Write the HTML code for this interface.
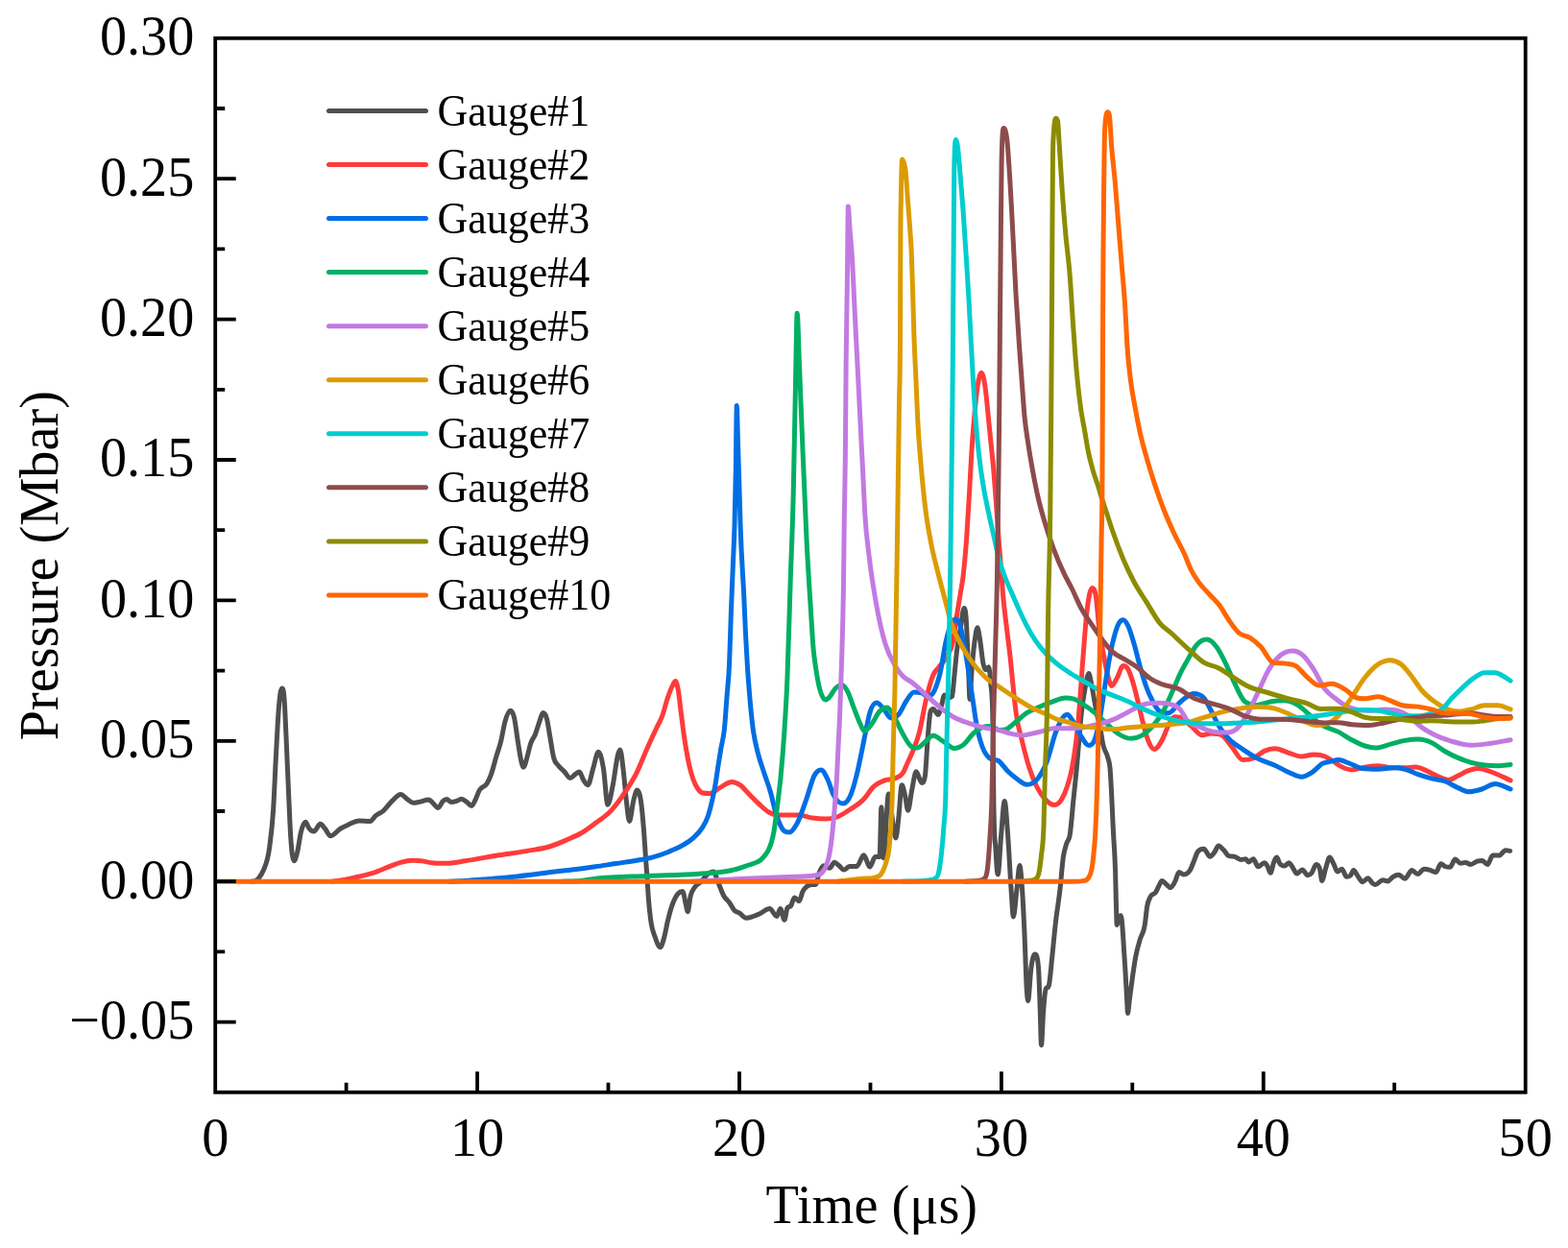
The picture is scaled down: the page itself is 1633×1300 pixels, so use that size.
<!DOCTYPE html><html><head><meta charset="utf-8"><style>html,body{margin:0;padding:0;background:#fff;}svg{display:block;}text{font-family:"Liberation Serif", "Times New Roman", serif;fill:#000;}</style></head><body>
<svg width="1633" height="1300" viewBox="0 0 1633 1300">
<rect width="1633" height="1300" fill="#fff"/>
<defs><clipPath id="pc"><rect x="224.2" y="39.8" width="1364.5" height="1098.0"/></clipPath></defs>
<g clip-path="url(#pc)" fill="none" stroke-width="5.0" stroke-linejoin="round" stroke-linecap="round">
<path stroke="#4F4F4F" d="M262.00 918.20 C263.43 917.97 264.87 918.20 266.30 917.50 C267.53 916.90 268.77 915.60 270.00 914.00 C271.33 912.27 272.67 910.56 274.00 907.30 C276.23 901.84 278.47 899.30 280.70 882.30 C282.00 872.40 283.30 864.13 284.60 843.80 C285.57 828.68 286.53 803.90 287.50 786.00 C288.43 768.72 289.37 749.39 290.30 738.00 C291.40 724.57 292.50 716.90 293.60 716.90 C294.43 716.90 295.27 717.24 296.10 728.50 C296.73 737.06 297.37 753.41 298.00 767.00 C298.83 784.89 299.67 806.32 300.50 824.60 C301.27 841.41 302.03 860.94 302.80 872.70 C303.97 890.60 305.13 896.70 306.30 896.70 C307.40 896.70 308.50 892.39 309.60 888.00 C310.87 882.94 312.13 872.06 313.40 866.90 C315.00 860.38 316.60 856.30 318.20 856.30 C319.47 856.30 320.73 861.40 322.00 863.00 C323.63 865.06 325.27 866.00 326.90 866.00 C329.13 866.00 331.37 858.30 333.60 858.30 C335.20 858.30 336.80 861.17 338.40 863.00 C340.33 865.21 342.27 870.80 344.20 870.80 C347.73 870.80 351.27 865.10 354.80 863.00 C357.37 861.47 359.93 860.33 362.50 859.20 C366.33 857.51 370.17 855.00 374.00 855.00 C377.83 855.00 381.67 855.40 385.50 855.40 C387.43 855.40 389.37 851.22 391.30 849.60 C393.87 847.45 396.43 846.95 399.00 844.80 C402.20 842.12 405.40 837.17 408.60 834.20 C411.50 831.51 414.40 827.50 417.30 827.50 C419.53 827.50 421.77 830.81 424.00 832.30 C426.17 833.74 428.33 836.30 430.50 836.30 C432.40 836.30 434.30 835.83 436.20 835.50 C439.70 834.90 443.20 833.10 446.70 833.10 C448.03 833.10 449.37 835.16 450.70 836.30 C452.57 837.89 454.43 841.50 456.30 841.50 C457.93 841.50 459.57 836.19 461.20 834.70 C462.53 833.48 463.87 832.60 465.20 832.60 C466.83 832.60 468.47 835.50 470.10 835.50 C471.70 835.50 473.30 835.15 474.90 834.70 C476.80 834.16 478.70 832.30 480.60 832.30 C482.47 832.30 484.33 834.19 486.20 835.50 C487.83 836.65 489.47 839.50 491.10 839.50 C492.43 839.50 493.77 835.74 495.10 833.10 C496.47 830.40 497.83 825.96 499.20 823.40 C501.87 818.40 504.53 820.75 507.20 816.10 C508.57 813.72 509.93 810.90 511.30 807.20 C513.17 802.14 515.03 794.19 516.90 787.90 C518.53 782.39 520.17 778.49 521.80 771.70 C523.13 766.16 524.47 757.27 525.80 752.30 C527.70 745.22 529.60 740.20 531.50 740.20 C532.83 740.20 534.17 741.98 535.50 747.50 C536.83 753.02 538.17 765.12 539.50 773.30 C540.60 780.05 541.70 788.25 542.80 792.70 C543.60 795.93 544.40 799.20 545.20 799.20 C546.53 799.20 547.87 792.48 549.20 787.90 C550.30 784.12 551.40 778.37 552.50 774.90 C554.10 769.85 555.70 769.18 557.30 765.20 C558.93 761.14 560.57 755.11 562.20 750.70 C563.27 747.82 564.33 742.60 565.40 742.60 C566.73 742.60 568.07 743.35 569.40 748.30 C570.50 752.39 571.60 760.60 572.70 766.80 C574.03 774.32 575.37 784.36 576.70 789.50 C578.30 795.66 579.90 795.29 581.50 797.50 C583.67 800.50 585.83 801.67 588.00 804.00 C589.90 806.04 591.80 810.50 593.70 810.50 C595.57 810.50 597.43 807.61 599.30 806.40 C600.67 805.52 602.03 804.00 603.40 804.00 C604.73 804.00 606.07 809.92 607.40 812.10 C609.00 814.72 610.60 817.70 612.20 817.70 C614.10 817.70 616.00 805.66 617.90 799.70 C619.67 794.16 621.43 783.20 623.20 783.20 C625.00 783.20 626.80 790.24 628.60 801.50 C630.03 810.46 631.47 838.20 632.90 838.20 C634.70 838.20 636.50 826.50 638.30 817.70 C640.10 808.90 641.90 791.13 643.70 785.40 C644.40 783.17 645.10 781.00 645.80 781.00 C646.90 781.00 648.00 792.50 649.10 801.50 C650.17 810.23 651.23 824.82 652.30 833.80 C653.37 842.78 654.43 855.40 655.50 855.40 C656.93 855.40 658.37 839.32 659.80 833.80 C661.07 828.92 662.33 823.10 663.60 823.10 C664.87 823.10 666.13 825.21 667.40 833.80 C668.47 841.04 669.53 852.52 670.60 866.20 C671.33 875.61 672.07 888.63 672.80 898.50 C673.13 902.99 673.47 906.72 673.80 911.40 C674.30 918.42 674.80 928.30 675.30 935.00 C676.03 944.83 676.77 951.06 677.50 957.00 C679.07 969.69 680.63 971.17 682.20 976.00 C684.03 981.66 685.87 986.80 687.70 986.80 C689.07 986.80 690.43 981.04 691.80 976.00 C693.00 971.58 694.20 964.38 695.40 959.40 C696.97 952.89 698.53 947.19 700.10 942.70 C702.10 936.97 704.10 933.12 706.10 930.80 C707.67 928.99 709.23 928.40 710.80 928.40 C712.00 928.40 713.20 937.77 714.40 942.70 C714.97 945.03 715.53 949.80 716.10 949.80 C717.13 949.80 718.17 937.37 719.20 933.20 C720.80 926.74 722.40 925.95 724.00 923.60 C725.97 920.71 727.93 920.70 729.90 918.80 C732.30 916.48 734.70 912.28 737.10 910.50 C739.07 909.04 741.03 908.10 743.00 908.10 C744.60 908.10 746.20 915.11 747.80 918.80 C749.80 923.41 751.80 929.61 753.80 933.20 C755.77 936.73 757.73 937.56 759.70 940.30 C761.43 942.71 763.17 946.65 764.90 948.40 C766.53 950.05 768.17 949.83 769.80 950.80 C772.23 952.25 774.67 956.30 777.10 956.30 C779.57 956.30 782.03 955.33 784.50 954.50 C786.93 953.69 789.37 952.51 791.80 951.40 C795.07 949.91 798.33 946.50 801.60 946.50 C804.07 946.50 806.53 954.50 809.00 954.50 C810.23 954.50 811.47 946.50 812.70 946.50 C814.13 946.50 815.57 958.20 817.00 958.20 C818.00 958.20 819.00 947.85 820.00 945.90 C821.23 943.50 822.47 945.33 823.70 943.50 C824.93 941.67 826.17 934.90 827.40 934.90 C829.03 934.90 830.67 938.60 832.30 938.60 C833.50 938.60 834.70 931.24 835.90 928.80 C837.13 926.29 838.37 925.11 839.60 923.90 C841.63 921.91 843.67 921.40 845.70 921.40 C846.93 921.40 848.17 921.40 849.40 921.40 C850.63 921.40 851.87 912.32 853.10 909.20 C854.73 905.07 856.37 901.80 858.00 901.80 C860.03 901.80 862.07 904.30 864.10 904.30 C865.73 904.30 867.37 898.20 869.00 898.20 C870.63 898.20 872.27 900.48 873.90 901.80 C875.53 903.12 877.17 906.10 878.80 906.10 C880.83 906.10 882.87 902.50 884.90 902.50 C887.37 902.50 889.83 902.50 892.30 902.50 C894.73 902.50 897.17 890.80 899.60 890.80 C901.67 890.80 903.73 903.00 905.80 903.00 C907.70 903.00 909.60 892.60 911.50 892.60 C913.03 892.60 914.57 892.60 916.10 892.60 C916.70 892.60 917.30 840.70 917.90 840.70 C918.67 840.70 919.43 893.80 920.20 893.80 C921.93 893.80 923.67 826.90 925.40 826.90 C926.17 826.90 926.93 836.05 927.70 840.70 C929.43 851.21 931.17 873.00 932.90 873.00 C933.87 873.00 934.83 860.55 935.80 852.30 C936.93 842.63 938.07 817.70 939.20 817.70 C940.37 817.70 941.53 824.16 942.70 829.20 C943.67 833.37 944.63 844.20 945.60 844.20 C946.93 844.20 948.27 829.75 949.60 823.40 C951.13 816.10 952.67 803.80 954.20 803.80 C956.13 803.80 958.07 815.40 960.00 815.40 C961.13 815.40 962.27 815.40 963.40 808.40 C964.30 802.84 965.20 781.58 966.10 770.70 C967.07 759.02 968.03 744.40 969.00 741.50 C969.97 738.60 970.93 738.60 971.90 738.60 C973.60 738.60 975.30 744.40 977.00 744.40 C978.23 744.40 979.47 738.13 980.70 734.20 C981.67 731.12 982.63 724.00 983.60 724.00 C984.90 724.00 986.20 727.00 987.50 727.00 C988.87 727.00 990.23 727.00 991.60 725.40 C992.33 724.54 993.07 711.94 993.80 705.00 C994.80 695.53 995.80 683.89 996.80 675.80 C998.00 666.10 999.20 660.78 1000.40 653.80 C1001.63 646.63 1002.87 633.40 1004.10 633.40 C1004.83 633.40 1005.57 635.42 1006.30 646.50 C1006.77 653.55 1007.23 665.27 1007.70 675.80 C1008.20 687.09 1008.70 700.59 1009.20 712.30 C1009.43 717.77 1009.67 728.40 1009.90 728.40 C1010.63 728.40 1011.37 706.72 1012.10 697.70 C1013.07 685.82 1014.03 675.72 1015.00 668.40 C1015.97 661.08 1016.93 653.80 1017.90 653.80 C1018.90 653.80 1019.90 662.15 1020.90 668.40 C1021.87 674.44 1022.83 685.52 1023.80 690.40 C1024.77 695.28 1025.73 697.70 1026.70 697.70 C1027.67 697.70 1028.63 694.70 1029.60 694.70 C1030.33 694.70 1031.07 702.07 1031.80 712.30 C1032.53 722.53 1033.27 712.30 1034.00 756.10 C1034.27 772.03 1034.53 811.09 1034.80 830.80 C1035.53 885.00 1036.27 871.65 1037.00 885.00 C1037.73 898.35 1038.47 910.90 1039.20 910.90 C1040.37 910.90 1041.53 882.02 1042.70 869.30 C1043.87 856.58 1045.03 834.60 1046.20 834.60 C1047.33 834.60 1048.47 854.23 1049.60 869.30 C1050.77 884.82 1051.93 910.80 1053.10 927.00 C1053.87 937.64 1054.63 955.00 1055.40 955.00 C1056.57 955.00 1057.73 936.63 1058.90 927.00 C1059.90 918.75 1060.90 901.60 1061.90 901.60 C1062.80 901.60 1063.70 913.84 1064.60 927.00 C1065.40 938.69 1066.20 955.40 1067.00 973.20 C1067.77 990.26 1068.53 1019.71 1069.30 1031.00 C1069.73 1037.38 1070.17 1042.50 1070.60 1042.50 C1071.70 1042.50 1072.80 1015.94 1073.90 1007.90 C1075.20 998.39 1076.50 994.00 1077.80 994.00 C1079.03 994.00 1080.27 994.00 1081.50 1007.90 C1082.10 1014.66 1082.70 1037.44 1083.30 1054.00 C1083.70 1065.04 1084.10 1088.70 1084.50 1088.70 C1085.20 1088.70 1085.90 1063.39 1086.60 1054.00 C1087.37 1043.72 1088.13 1034.09 1088.90 1031.00 C1090.07 1026.30 1091.23 1031.00 1092.40 1026.30 C1093.53 1021.73 1094.67 1006.89 1095.80 996.30 C1096.97 985.40 1098.13 972.05 1099.30 961.70 C1100.83 948.09 1102.37 940.61 1103.90 927.00 C1105.07 916.65 1106.23 900.50 1107.40 892.40 C1108.53 884.53 1109.67 882.32 1110.80 878.50 C1111.97 874.57 1113.13 876.62 1114.30 869.30 C1115.47 861.98 1116.63 846.15 1117.80 834.60 C1118.97 823.05 1120.13 812.33 1121.30 800.00 C1122.93 782.73 1124.57 758.15 1126.20 743.50 C1127.53 731.54 1128.87 723.12 1130.20 716.00 C1131.43 709.41 1132.67 701.50 1133.90 701.50 C1134.83 701.50 1135.77 708.38 1136.70 712.80 C1137.77 717.85 1138.83 724.67 1139.90 730.50 C1140.70 734.87 1141.50 739.64 1142.30 743.50 C1143.37 748.64 1144.43 751.13 1145.50 756.40 C1146.60 761.83 1147.70 770.76 1148.80 775.80 C1150.40 783.13 1152.00 782.24 1153.60 788.70 C1154.40 791.93 1155.20 791.61 1156.00 800.00 C1157.20 812.59 1158.40 845.55 1159.60 869.00 C1160.27 882.03 1160.93 885.51 1161.60 908.50 C1161.87 917.70 1162.13 931.65 1162.40 940.80 C1162.67 949.95 1162.93 963.40 1163.20 963.40 C1163.73 963.40 1164.27 958.58 1164.80 957.00 C1165.63 954.54 1166.47 953.70 1167.30 953.70 C1167.83 953.70 1168.37 959.08 1168.90 965.00 C1169.43 970.92 1169.97 981.12 1170.50 989.20 C1171.03 997.28 1171.57 1004.60 1172.10 1013.50 C1172.63 1022.40 1173.17 1033.63 1173.70 1042.60 C1173.97 1047.08 1174.23 1055.50 1174.50 1055.50 C1175.07 1055.50 1175.63 1046.90 1176.20 1042.60 C1177.27 1034.50 1178.33 1025.85 1179.40 1018.30 C1180.47 1010.75 1181.53 1003.20 1182.60 997.30 C1184.23 988.26 1185.87 983.59 1187.50 977.90 C1189.10 972.32 1190.70 973.63 1192.30 963.40 C1193.10 958.28 1193.90 948.73 1194.70 944.00 C1195.80 937.49 1196.90 936.68 1198.00 934.30 C1199.87 930.25 1201.73 932.49 1203.60 929.50 C1204.67 927.79 1205.73 924.99 1206.80 923.00 C1207.90 920.95 1209.00 917.40 1210.10 917.40 C1211.70 917.40 1213.30 920.11 1214.90 921.40 C1216.27 922.50 1217.63 924.60 1219.00 924.60 C1220.60 924.60 1222.20 921.22 1223.80 918.20 C1225.17 915.62 1226.53 908.50 1227.90 908.50 C1229.50 908.50 1231.10 910.90 1232.70 910.90 C1234.87 910.90 1237.03 910.31 1239.20 906.80 C1240.80 904.20 1242.40 899.41 1244.00 895.50 C1245.07 892.90 1246.13 889.12 1247.20 887.50 C1249.37 884.20 1251.53 884.20 1253.70 884.20 C1255.87 884.20 1258.03 892.30 1260.20 892.30 C1261.80 892.30 1263.40 889.65 1265.00 887.50 C1266.33 885.71 1267.67 881.00 1269.00 881.00 C1270.90 881.00 1272.80 883.84 1274.70 885.80 C1276.30 887.45 1277.90 890.91 1279.50 891.50 C1281.67 892.30 1283.83 891.63 1286.00 892.30 C1288.17 892.97 1290.33 895.50 1292.50 895.50 C1294.10 895.50 1295.70 894.70 1297.30 894.70 C1298.37 894.70 1299.43 898.00 1300.50 898.00 C1302.13 898.00 1303.77 894.70 1305.40 894.70 C1307.00 894.70 1308.60 902.80 1310.20 902.80 C1312.37 902.80 1314.53 898.80 1316.70 898.80 C1317.77 898.80 1318.83 900.30 1319.90 902.00 C1321.00 903.76 1322.10 909.30 1323.20 909.30 C1324.27 909.30 1325.33 901.50 1326.40 898.80 C1327.47 896.10 1328.53 893.10 1329.60 893.10 C1330.70 893.10 1331.80 898.09 1332.90 899.60 C1334.50 901.79 1336.10 902.00 1337.70 902.00 C1339.33 902.00 1340.97 898.80 1342.60 898.80 C1343.67 898.80 1344.73 901.35 1345.80 902.80 C1347.40 904.97 1349.00 910.10 1350.60 910.10 C1352.50 910.10 1354.40 906.00 1356.30 906.00 C1358.17 906.00 1360.03 911.70 1361.90 911.70 C1363.27 911.70 1364.63 910.90 1366.00 909.30 C1367.60 907.43 1369.20 900.40 1370.80 900.40 C1372.17 900.40 1373.53 900.56 1374.90 906.80 C1375.50 909.54 1376.10 917.40 1376.70 917.40 C1378.07 917.40 1379.43 907.99 1380.80 903.90 C1382.13 899.91 1383.47 893.10 1384.80 893.10 C1386.17 893.10 1387.53 897.30 1388.90 899.80 C1390.23 902.24 1391.57 907.90 1392.90 907.90 C1394.47 907.90 1396.03 905.20 1397.60 905.20 C1399.17 905.20 1400.73 913.30 1402.30 913.30 C1403.67 913.30 1405.03 913.30 1406.40 912.00 C1407.50 910.95 1408.60 906.60 1409.70 906.60 C1411.30 906.60 1412.90 911.27 1414.50 913.30 C1416.07 915.29 1417.63 918.70 1419.20 918.70 C1421.00 918.70 1422.80 914.70 1424.60 914.70 C1426.17 914.70 1427.73 918.88 1429.30 920.00 C1430.40 920.79 1431.50 921.40 1432.60 921.40 C1435.10 921.40 1437.60 916.70 1440.10 916.70 C1441.87 916.70 1443.63 918.00 1445.40 918.00 C1447.20 918.00 1449.00 914.41 1450.80 913.30 C1452.83 912.05 1454.87 911.30 1456.90 911.30 C1458.93 911.30 1460.97 915.30 1463.00 915.30 C1465.47 915.30 1467.93 906.60 1470.40 906.60 C1472.40 906.60 1474.40 910.60 1476.40 910.60 C1478.67 910.60 1480.93 905.20 1483.20 905.20 C1485.43 905.20 1487.67 905.93 1489.90 906.60 C1491.70 907.14 1493.50 908.60 1495.30 908.60 C1497.10 908.60 1498.90 899.80 1500.70 899.80 C1502.03 899.80 1503.37 901.98 1504.70 902.50 C1506.50 903.20 1508.30 903.20 1510.10 903.20 C1511.90 903.20 1513.70 895.10 1515.50 895.10 C1517.30 895.10 1519.10 899.20 1520.90 899.20 C1522.70 899.20 1524.50 898.50 1526.30 898.50 C1528.10 898.50 1529.90 900.50 1531.70 900.50 C1533.93 900.50 1536.17 897.85 1538.40 897.20 C1540.20 896.68 1542.00 896.50 1543.80 896.50 C1545.60 896.50 1547.40 900.50 1549.20 900.50 C1551.00 900.50 1552.80 891.10 1554.60 891.10 C1556.83 891.10 1559.07 891.10 1561.30 891.10 C1563.53 891.10 1565.77 885.70 1568.00 885.70 C1569.57 885.70 1571.13 886.17 1572.70 886.40"/>
<path stroke="#FF3B3B" d="M346.00 918.20 C350.17 917.60 354.33 917.13 358.50 916.40 C363.77 915.48 369.03 914.28 374.30 913.00 C380.03 911.61 385.77 910.24 391.50 908.30 C397.20 906.37 402.90 903.49 408.60 901.40 C411.47 900.35 414.33 899.19 417.20 898.40 C421.47 897.23 425.73 896.30 430.00 896.30 C432.87 896.30 435.73 896.50 438.60 896.80 C442.90 897.24 447.20 898.70 451.50 899.00 C455.80 899.30 460.10 899.30 464.40 899.30 C471.13 899.30 477.87 897.76 484.60 896.80 C495.37 895.26 506.13 892.93 516.90 891.20 C527.67 889.47 538.43 888.33 549.20 886.40 C557.30 884.95 565.40 884.09 573.50 881.50 C578.87 879.79 584.23 877.42 589.60 875.10 C595.00 872.76 600.40 870.71 605.80 867.50 C610.53 864.69 615.27 861.04 620.00 857.50 C625.40 853.46 630.80 850.36 636.20 844.60 C641.57 838.88 646.93 831.42 652.30 823.10 C655.90 817.52 659.50 812.03 663.10 804.80 C666.67 797.64 670.23 788.02 673.80 780.00 C677.00 772.80 680.20 765.87 683.40 759.00 C685.60 754.27 687.80 751.27 690.00 745.00 C691.67 740.25 693.33 733.00 695.00 728.00 C696.67 723.00 698.33 718.32 700.00 715.00 C701.17 712.67 702.33 709.50 703.50 709.50 C704.50 709.50 705.50 714.05 706.50 720.00 C707.33 724.96 708.17 733.33 709.00 740.00 C709.83 746.67 710.67 753.84 711.50 760.00 C712.50 767.39 713.50 774.04 714.50 780.00 C715.67 786.96 716.83 792.89 718.00 798.00 C719.33 803.83 720.67 808.22 722.00 812.00 C723.67 816.72 725.33 819.67 727.00 822.00 C728.67 824.33 730.33 825.67 732.00 826.00 C734.50 826.50 737.00 826.50 739.50 826.50 C742.73 826.50 745.97 822.65 749.20 820.90 C753.50 818.57 757.80 814.50 762.10 814.50 C764.93 814.50 767.77 815.74 770.60 817.60 C773.97 819.81 777.33 824.33 780.70 827.70 C784.10 831.10 787.50 834.79 790.90 837.90 C794.27 840.98 797.63 844.45 801.00 846.30 C804.00 847.95 807.00 849.00 810.00 849.00 C817.33 849.00 824.67 849.00 832.00 849.00 C836.67 849.00 841.33 851.33 846.00 852.00 C850.67 852.67 855.33 853.00 860.00 853.00 C864.00 853.00 868.00 852.50 872.00 851.00 C876.00 849.50 880.00 846.62 884.00 844.00 C889.33 840.51 894.67 837.88 900.00 832.00 C903.07 828.62 906.13 823.04 909.20 820.00 C913.07 816.17 916.93 814.65 920.80 813.10 C924.63 811.56 928.47 812.61 932.30 810.70 C935.00 809.35 937.70 809.43 940.40 805.00 C941.93 802.48 943.47 798.35 945.00 795.00 C946.67 791.36 948.33 788.09 950.00 784.00 C952.43 778.03 954.87 772.73 957.30 763.40 C959.73 754.07 962.17 738.07 964.60 728.00 C967.03 717.93 969.47 708.55 971.90 703.00 C973.87 698.51 975.83 697.68 977.80 695.00 C980.70 691.05 983.60 689.01 986.50 683.10 C988.47 679.09 990.43 677.97 992.40 668.40 C993.87 661.26 995.33 648.49 996.80 639.20 C998.00 631.60 999.20 624.82 1000.40 617.30 C1001.30 611.66 1002.20 607.60 1003.10 600.00 C1004.33 589.58 1005.57 575.78 1006.80 558.40 C1007.80 544.31 1008.80 526.83 1009.80 509.20 C1010.47 497.45 1011.13 483.14 1011.80 472.30 C1012.73 457.13 1013.67 446.17 1014.60 435.40 C1015.53 424.63 1016.47 415.02 1017.40 407.70 C1018.13 401.95 1018.87 397.22 1019.60 394.00 C1020.40 390.49 1021.20 388.30 1022.00 388.30 C1022.83 388.30 1023.67 390.18 1024.50 394.00 C1025.20 397.21 1025.90 402.12 1026.60 407.70 C1027.53 415.14 1028.47 426.17 1029.40 435.40 C1030.33 444.63 1031.27 453.69 1032.20 463.10 C1033.10 472.17 1034.00 480.28 1034.90 490.80 C1035.83 501.71 1036.77 514.91 1037.70 527.70 C1038.57 539.58 1039.43 553.29 1040.30 564.60 C1041.07 574.61 1041.83 582.33 1042.60 592.30 C1043.27 600.97 1043.93 611.95 1044.60 620.00 C1045.73 633.69 1046.87 640.95 1048.00 650.80 C1049.40 662.97 1050.80 672.37 1052.20 685.40 C1053.33 695.95 1054.47 709.42 1055.60 720.00 C1056.57 729.03 1057.53 738.03 1058.50 745.00 C1060.33 758.23 1062.17 762.26 1064.00 770.00 C1066.67 781.26 1069.33 791.67 1072.00 800.00 C1074.67 808.33 1077.33 814.67 1080.00 820.00 C1082.67 825.33 1085.33 829.01 1088.00 832.00 C1091.33 835.74 1094.67 838.50 1098.00 838.50 C1100.67 838.50 1103.33 836.62 1106.00 832.00 C1107.83 828.83 1109.67 824.71 1111.50 819.00 C1113.17 813.81 1114.83 809.08 1116.50 800.00 C1118.63 788.37 1120.77 774.55 1122.90 751.60 C1124.53 734.03 1126.17 707.47 1127.80 686.90 C1129.13 670.11 1130.47 650.48 1131.80 638.50 C1133.70 621.43 1135.60 612.60 1137.50 612.60 C1138.83 612.60 1140.17 613.39 1141.50 622.30 C1142.57 629.43 1143.63 645.78 1144.70 654.60 C1146.07 665.90 1147.43 671.36 1148.80 678.90 C1150.40 687.73 1152.00 697.01 1153.60 703.10 C1154.97 708.31 1156.33 714.40 1157.70 714.40 C1159.57 714.40 1161.43 709.46 1163.30 706.30 C1165.47 702.63 1167.63 693.40 1169.80 693.40 C1171.40 693.40 1173.00 693.98 1174.60 696.60 C1176.23 699.28 1177.87 704.31 1179.50 709.50 C1181.10 714.58 1182.70 720.91 1184.30 727.30 C1185.93 733.82 1187.57 741.82 1189.20 748.30 C1191.33 756.76 1193.47 765.62 1195.60 771.00 C1197.77 776.46 1199.93 780.60 1202.10 780.60 C1204.80 780.60 1207.50 775.85 1210.20 771.00 C1212.33 767.17 1214.47 760.43 1216.60 756.40 C1218.77 752.31 1220.93 746.70 1223.10 746.70 C1225.33 746.70 1227.57 746.70 1229.80 747.40 C1233.50 748.56 1237.20 753.53 1240.90 756.60 C1244.60 759.67 1248.30 765.80 1252.00 765.80 C1255.07 765.80 1258.13 764.00 1261.20 764.00 C1264.90 764.00 1268.60 764.00 1272.30 765.80 C1276.00 767.60 1279.70 774.38 1283.40 778.70 C1287.07 782.98 1290.73 791.60 1294.40 791.60 C1298.10 791.60 1301.80 791.33 1305.50 789.80 C1309.20 788.27 1312.90 784.08 1316.60 782.40 C1320.30 780.72 1324.00 779.70 1327.70 779.70 C1332.60 779.70 1337.50 782.83 1342.40 784.30 C1346.70 785.59 1351.00 788.00 1355.30 788.00 C1359.63 788.00 1363.97 786.10 1368.30 786.10 C1372.20 786.10 1376.10 786.39 1380.00 788.00 C1382.77 789.14 1385.53 791.17 1388.30 792.90 C1391.07 794.63 1393.83 796.98 1396.60 798.40 C1400.30 800.30 1404.00 801.90 1407.70 801.90 C1412.30 801.90 1416.90 799.80 1421.50 799.10 C1426.13 798.40 1430.77 797.70 1435.40 797.70 C1440.00 797.70 1444.60 799.80 1449.20 799.80 C1453.83 799.80 1458.47 799.80 1463.10 799.80 C1466.77 799.80 1470.43 799.10 1474.10 799.10 C1477.80 799.10 1481.50 801.12 1485.20 802.60 C1489.37 804.27 1493.53 807.13 1497.70 808.80 C1501.37 810.27 1505.03 812.30 1508.70 812.30 C1511.93 812.30 1515.17 809.59 1518.40 808.10 C1522.10 806.39 1525.80 803.88 1529.50 802.60 C1532.73 801.48 1535.97 800.50 1539.20 800.50 C1543.80 800.50 1548.40 802.47 1553.00 804.00 C1559.70 806.23 1566.40 810.00 1573.10 813.00"/>
<path stroke="#006EE3" d="M468.00 918.20 C473.33 917.93 478.67 917.72 484.00 917.40 C491.00 916.99 498.00 916.44 505.00 915.90 C514.37 915.17 523.73 914.43 533.10 913.50 C549.23 911.91 565.37 909.47 581.50 907.60 C587.67 906.89 593.83 906.26 600.00 905.50 C606.67 904.67 613.33 903.76 620.00 902.80 C627.17 901.77 634.33 900.58 641.50 899.50 C648.70 898.41 655.90 897.58 663.10 896.30 C668.47 895.35 673.83 894.53 679.20 893.10 C684.60 891.66 690.00 889.86 695.40 887.70 C700.77 885.55 706.13 883.46 711.50 880.20 C715.10 878.01 718.70 875.98 722.30 872.60 C725.17 869.91 728.03 867.53 730.90 862.90 C733.07 859.40 735.23 856.62 737.40 850.00 C738.83 845.62 740.27 840.24 741.70 833.80 C742.77 829.01 743.83 823.85 744.90 817.70 C746.00 811.36 747.10 803.19 748.20 796.20 C749.07 790.69 749.93 785.26 750.80 780.00 C752.03 772.52 753.27 770.79 754.50 758.40 C755.37 749.70 756.23 736.11 757.10 724.60 C757.93 713.53 758.77 710.07 759.60 690.70 C760.17 677.53 760.73 655.64 761.30 640.00 C761.97 621.60 762.63 606.60 763.30 590.00 C763.87 575.89 764.43 568.17 765.00 547.80 C765.43 532.22 765.87 514.91 766.30 490.00 C766.63 470.84 766.97 422.50 767.30 422.50 C767.73 422.50 768.17 450.95 768.60 465.00 C769.07 480.13 769.53 494.42 770.00 510.00 C770.37 522.24 770.73 536.41 771.10 547.80 C772.33 586.11 773.57 594.91 774.80 621.70 C775.37 634.01 775.93 648.50 776.50 660.00 C777.07 671.50 777.63 681.50 778.20 690.70 C779.03 704.23 779.87 714.58 780.70 724.60 C781.83 738.23 782.97 749.38 784.10 758.40 C785.80 771.93 787.50 776.62 789.20 783.80 C791.47 793.38 793.73 798.62 796.00 805.70 C798.23 812.68 800.47 818.03 802.70 826.00 C804.40 832.07 806.10 840.65 807.80 846.30 C809.20 850.96 810.60 854.84 812.00 858.00 C813.33 861.01 814.67 863.67 816.00 865.00 C818.00 867.00 820.00 867.00 822.00 867.00 C824.67 867.00 827.33 862.75 830.00 858.00 C833.33 852.06 836.67 841.41 840.00 832.00 C842.67 824.47 845.33 812.95 848.00 808.00 C850.33 803.67 852.67 802.00 855.00 802.00 C857.33 802.00 859.67 807.11 862.00 812.00 C864.00 816.19 866.00 823.99 868.00 828.00 C871.33 834.68 874.67 837.00 878.00 837.00 C880.67 837.00 883.33 834.37 886.00 828.00 C888.00 823.23 890.00 816.00 892.00 808.00 C894.00 800.00 896.00 789.73 898.00 780.00 C899.33 773.51 900.67 766.33 902.00 760.00 C903.33 753.67 904.67 746.51 906.00 742.00 C908.33 734.11 910.67 732.00 913.00 732.00 C915.33 732.00 917.67 735.57 920.00 738.00 C922.67 740.77 925.33 748.00 928.00 748.00 C930.67 748.00 933.33 747.00 936.00 744.00 C938.67 741.00 941.33 733.83 944.00 730.00 C946.67 726.17 949.33 721.00 952.00 721.00 C954.67 721.00 957.33 721.10 960.00 722.00 C962.00 722.68 964.00 725.00 966.00 725.00 C967.67 725.00 969.33 725.00 971.00 723.00 C972.67 721.00 974.33 717.05 976.00 712.00 C977.07 708.77 978.13 705.11 979.20 700.60 C981.17 692.28 983.13 676.95 985.10 668.40 C987.03 659.99 988.97 653.32 990.90 649.50 C992.37 646.60 993.83 645.10 995.30 645.10 C996.77 645.10 998.23 646.52 999.70 650.90 C1001.17 655.28 1002.63 663.49 1004.10 671.40 C1005.53 679.13 1006.97 688.56 1008.40 697.70 C1009.87 707.05 1011.33 717.17 1012.80 726.90 C1014.27 736.63 1015.73 748.20 1017.20 756.10 C1019.17 766.69 1021.13 772.55 1023.10 778.00 C1025.53 784.74 1027.97 787.49 1030.40 789.70 C1033.60 792.60 1036.80 790.35 1040.00 792.60 C1043.33 794.94 1046.67 800.57 1050.00 803.80 C1053.33 807.03 1056.67 809.69 1060.00 812.00 C1063.07 814.13 1066.13 817.30 1069.20 817.30 C1072.80 817.30 1076.40 816.21 1080.00 812.00 C1083.33 808.10 1086.67 802.42 1090.00 794.00 C1093.33 785.58 1096.67 769.63 1100.00 761.50 C1103.83 752.15 1107.67 744.20 1111.50 744.20 C1113.17 744.20 1114.83 747.56 1116.50 749.90 C1119.17 753.64 1121.83 760.33 1124.50 764.50 C1127.73 769.56 1130.97 776.60 1134.20 776.60 C1136.10 776.60 1138.00 775.71 1139.90 770.90 C1141.77 766.17 1143.63 757.93 1145.50 748.30 C1147.67 737.12 1149.83 719.22 1152.00 706.30 C1154.17 693.38 1156.33 680.25 1158.50 670.80 C1160.63 661.49 1162.77 653.85 1164.90 649.80 C1166.53 646.70 1168.17 645.70 1169.80 645.70 C1171.40 645.70 1173.00 648.28 1174.60 651.40 C1176.77 655.63 1178.93 663.46 1181.10 670.80 C1183.23 678.02 1185.37 687.52 1187.50 695.00 C1189.67 702.60 1191.83 710.08 1194.00 716.00 C1196.17 721.92 1198.33 726.45 1200.50 730.50 C1202.63 734.49 1204.77 738.60 1206.90 740.20 C1210.23 742.70 1213.57 742.70 1216.90 742.70 C1221.20 742.70 1225.50 734.08 1229.80 730.70 C1234.13 727.30 1238.47 722.40 1242.80 722.40 C1246.47 722.40 1250.13 722.53 1253.80 727.00 C1256.27 730.01 1258.73 735.38 1261.20 740.00 C1263.67 744.62 1266.13 750.44 1268.60 754.70 C1272.30 761.08 1276.00 765.49 1279.70 769.50 C1284.60 774.81 1289.50 777.23 1294.40 780.60 C1299.33 784.00 1304.27 787.22 1309.20 789.80 C1315.37 793.03 1321.53 794.38 1327.70 797.20 C1332.60 799.44 1337.50 802.52 1342.40 804.60 C1346.70 806.43 1351.00 809.20 1355.30 809.20 C1359.00 809.20 1362.70 806.92 1366.40 804.60 C1370.10 802.28 1373.80 797.23 1377.50 795.30 C1380.63 793.66 1383.77 793.61 1386.90 792.90 C1389.20 792.38 1391.50 791.50 1393.80 791.50 C1397.50 791.50 1401.20 793.70 1404.90 795.00 C1409.53 796.63 1414.17 799.91 1418.80 800.50 C1424.33 801.20 1429.87 801.20 1435.40 801.20 C1440.93 801.20 1446.47 799.80 1452.00 799.80 C1455.70 799.80 1459.40 800.28 1463.10 801.20 C1467.70 802.34 1472.30 805.08 1476.90 806.70 C1481.50 808.32 1486.10 809.74 1490.70 810.90 C1495.33 812.07 1499.97 812.07 1504.60 813.70 C1509.20 815.32 1513.80 818.63 1518.40 820.60 C1522.10 822.18 1525.80 824.70 1529.50 824.70 C1534.10 824.70 1538.70 823.37 1543.30 822.00 C1547.93 820.62 1552.57 816.40 1557.20 816.40 C1562.50 816.40 1567.80 820.13 1573.10 822.00"/>
<path stroke="#00AF64" d="M585.00 918.20 C591.67 917.93 598.33 918.05 605.00 917.40 C610.00 916.91 615.00 915.90 620.00 915.30 C637.93 913.13 655.87 913.33 673.80 912.50 C691.77 911.67 709.73 911.72 727.70 910.30 C738.47 909.45 749.23 909.32 760.00 907.00 C763.33 906.28 766.67 905.50 770.00 904.50 C773.33 903.50 776.67 902.13 780.00 901.00 C782.00 900.32 784.00 899.83 786.00 899.00 C788.00 898.17 790.00 897.65 792.00 896.00 C793.67 894.62 795.33 892.80 797.00 890.50 C798.17 888.89 799.33 887.52 800.50 885.00 C801.50 882.84 802.50 880.61 803.50 877.00 C804.33 873.99 805.17 870.87 806.00 866.00 C806.67 862.10 807.33 856.96 808.00 852.00 C808.83 845.80 809.67 839.00 810.50 832.00 C811.33 825.00 812.17 818.52 813.00 810.00 C814.33 796.37 815.67 781.11 817.00 760.00 C818.00 744.17 819.00 729.75 820.00 705.00 C821.03 679.42 822.07 639.30 823.10 607.70 C824.13 576.10 825.17 558.27 826.20 515.40 C826.97 483.59 827.73 435.49 828.50 400.00 C829.07 373.77 829.63 326.20 830.20 326.20 C830.97 326.20 831.73 361.37 832.50 380.00 C833.47 403.49 834.43 429.96 835.40 453.80 C836.93 491.61 838.47 530.72 840.00 561.50 C841.53 592.28 843.07 614.38 844.60 638.50 C845.40 651.09 846.20 665.55 847.00 675.00 C847.93 686.03 848.87 690.65 849.80 697.00 C851.03 705.39 852.27 712.09 853.50 717.00 C854.50 720.99 855.50 723.50 856.50 725.50 C857.50 727.50 858.50 729.00 859.50 729.00 C860.90 729.00 862.30 727.64 863.70 726.30 C865.83 724.26 867.97 719.24 870.10 717.10 C872.40 714.79 874.70 713.40 877.00 713.40 C879.00 713.40 881.00 716.88 883.00 720.80 C884.87 724.46 886.73 730.77 888.60 735.60 C891.03 741.90 893.47 748.98 895.90 754.00 C897.27 756.82 898.63 761.40 900.00 761.40 C902.67 761.40 905.33 757.40 908.00 754.00 C910.67 750.60 913.33 743.83 916.00 741.00 C918.67 738.17 921.33 737.00 924.00 737.00 C926.67 737.00 929.33 743.50 932.00 748.00 C934.67 752.50 937.33 759.32 940.00 764.00 C943.20 769.61 946.40 776.34 949.60 778.00 C951.53 779.00 953.47 779.00 955.40 779.00 C957.70 779.00 960.00 775.74 962.30 774.00 C965.50 771.58 968.70 766.30 971.90 766.30 C975.30 766.30 978.70 770.16 982.10 772.20 C986.00 774.54 989.90 779.50 993.80 779.50 C997.23 779.50 1000.67 777.95 1004.10 775.10 C1007.00 772.69 1009.90 767.68 1012.80 764.90 C1016.23 761.60 1019.67 758.87 1023.10 757.60 C1026.07 756.50 1029.03 756.50 1032.00 756.50 C1035.00 756.50 1038.00 760.50 1041.00 760.50 C1043.43 760.50 1045.87 760.50 1048.30 759.50 C1051.53 758.17 1054.77 754.63 1058.00 752.00 C1061.23 749.37 1064.47 745.99 1067.70 743.70 C1072.33 740.42 1076.97 738.89 1081.60 736.80 C1086.20 734.73 1090.80 732.81 1095.40 731.20 C1100.03 729.58 1104.67 727.10 1109.30 727.10 C1112.07 727.10 1114.83 727.10 1117.60 727.80 C1121.27 728.73 1124.93 731.64 1128.60 734.00 C1132.40 736.45 1136.20 739.20 1140.00 742.30 C1144.00 745.56 1148.00 749.63 1152.00 753.20 C1156.30 757.04 1160.60 761.82 1164.90 764.50 C1169.23 767.20 1173.57 769.30 1177.90 769.30 C1181.67 769.30 1185.43 768.25 1189.20 766.10 C1192.97 763.95 1196.73 760.72 1200.50 756.40 C1204.27 752.08 1208.03 747.08 1211.80 740.20 C1215.03 734.29 1218.27 726.38 1221.50 719.20 C1224.33 712.91 1227.17 705.54 1230.00 699.90 C1231.80 696.31 1233.60 693.28 1235.40 690.10 C1239.07 683.62 1242.73 675.70 1246.40 671.70 C1249.80 668.00 1253.20 666.10 1256.60 666.10 C1259.97 666.10 1263.33 669.19 1266.70 673.50 C1269.80 677.47 1272.90 683.91 1276.00 690.10 C1279.07 696.22 1282.13 704.16 1285.20 710.40 C1288.90 717.93 1292.60 727.52 1296.30 730.70 C1300.60 734.40 1304.90 734.40 1309.20 734.40 C1314.13 734.40 1319.07 731.46 1324.00 730.70 C1328.30 730.04 1332.60 729.80 1336.90 729.80 C1341.80 729.80 1346.70 731.40 1351.60 734.40 C1355.30 736.66 1359.00 740.57 1362.70 743.70 C1367.00 747.33 1371.30 751.80 1375.60 754.70 C1381.67 758.79 1387.73 759.23 1393.80 762.40 C1398.43 764.82 1403.07 768.26 1407.70 770.70 C1412.30 773.12 1416.90 775.60 1421.50 777.00 C1425.20 778.12 1428.90 779.00 1432.60 779.00 C1438.13 779.00 1443.67 776.28 1449.20 774.90 C1453.83 773.74 1458.47 772.22 1463.10 771.40 C1467.70 770.59 1472.30 770.00 1476.90 770.00 C1481.50 770.00 1486.10 771.43 1490.70 773.50 C1495.33 775.58 1499.97 779.84 1504.60 782.50 C1509.20 785.14 1513.80 787.44 1518.40 789.40 C1523.03 791.38 1527.67 793.03 1532.30 794.30 C1536.90 795.56 1541.50 796.43 1546.10 797.00 C1550.73 797.57 1555.37 797.70 1560.00 797.70 C1564.37 797.70 1568.73 796.83 1573.10 796.40"/>
<path stroke="#C27AE2" d="M720.00 918.20 C736.67 917.33 753.33 916.38 770.00 915.60 C786.67 914.82 803.33 914.32 820.00 913.50 C829.33 913.04 838.67 913.50 848.00 912.00 C850.67 911.57 853.33 912.00 856.00 909.00 C857.47 907.35 858.93 905.99 860.40 902.00 C861.63 898.64 862.87 895.65 864.10 888.40 C864.93 883.50 865.77 877.63 866.60 870.00 C867.23 864.20 867.87 857.36 868.50 850.00 C869.50 838.39 870.50 828.85 871.50 810.00 C871.97 801.20 872.43 789.82 872.90 780.00 C873.50 767.37 874.10 757.84 874.70 743.00 C875.33 727.33 875.97 709.92 876.60 687.60 C877.20 666.46 877.80 654.80 878.40 613.80 C878.70 593.30 879.00 561.53 879.30 540.00 C879.63 516.08 879.97 510.11 880.30 479.60 C880.60 452.14 880.90 401.31 881.20 372.00 C881.63 329.66 882.07 320.73 882.50 286.00 C882.77 264.63 883.03 215.00 883.30 215.00 C883.87 215.00 884.43 230.70 885.00 238.00 C885.73 247.45 886.47 253.24 887.20 264.50 C888.27 280.87 889.33 307.82 890.40 329.00 C891.50 350.84 892.60 371.66 893.70 393.50 C894.77 414.68 895.83 437.06 896.90 458.00 C897.43 468.47 897.97 478.50 898.50 489.00 C899.27 504.09 900.03 522.44 900.80 535.30 C902.33 561.01 903.87 568.16 905.40 581.50 C907.70 601.51 910.00 614.37 912.30 627.60 C915.37 645.24 918.43 658.41 921.50 669.10 C925.17 681.89 928.83 687.73 932.50 694.00 C935.00 698.28 937.50 701.35 940.00 704.00 C943.33 707.54 946.67 708.41 950.00 711.00 C954.87 714.78 959.73 719.65 964.60 724.00 C969.47 728.35 974.33 733.22 979.20 737.10 C984.07 740.98 988.93 744.62 993.80 747.30 C998.67 749.98 1003.53 751.49 1008.40 753.20 C1013.30 754.92 1018.20 756.42 1023.10 757.60 C1028.73 758.95 1034.37 759.08 1040.00 760.50 C1043.33 761.34 1046.67 762.67 1050.00 763.50 C1054.67 764.66 1059.33 766.00 1064.00 766.00 C1069.33 766.00 1074.67 764.09 1080.00 763.00 C1086.67 761.64 1093.33 758.50 1100.00 758.50 C1103.33 758.50 1106.67 758.80 1110.00 758.80 C1115.40 758.80 1120.80 758.67 1126.20 758.00 C1131.57 757.33 1136.93 756.14 1142.30 754.80 C1147.70 753.45 1153.10 752.06 1158.50 749.90 C1163.87 747.75 1169.23 744.57 1174.60 741.90 C1180.00 739.21 1185.40 735.41 1190.80 733.80 C1196.17 732.20 1201.53 732.20 1206.90 732.20 C1211.23 732.20 1215.57 732.20 1219.90 733.80 C1223.27 735.04 1226.63 735.80 1230.00 740.20 C1231.80 742.55 1233.60 746.73 1235.40 749.20 C1240.30 755.92 1245.20 755.28 1250.10 757.50 C1254.43 759.46 1258.77 761.30 1263.10 762.10 C1268.00 763.00 1272.90 763.00 1277.80 763.00 C1281.50 763.00 1285.20 761.93 1288.90 758.40 C1291.97 755.47 1295.03 750.62 1298.10 745.50 C1301.80 739.32 1305.50 731.08 1309.20 723.40 C1312.90 715.72 1316.60 705.88 1320.30 699.40 C1323.97 692.98 1327.63 688.12 1331.30 684.60 C1336.23 679.87 1341.17 678.10 1346.10 678.10 C1349.80 678.10 1353.50 679.57 1357.20 682.80 C1360.90 686.03 1364.60 691.81 1368.30 697.50 C1372.20 703.49 1376.10 713.01 1380.00 718.10 C1383.70 722.93 1387.40 724.87 1391.10 727.80 C1394.33 730.36 1397.57 732.97 1400.80 734.80 C1405.40 737.41 1410.00 738.91 1414.60 739.60 C1419.23 740.30 1423.87 740.30 1428.50 740.30 C1433.10 740.30 1437.70 738.90 1442.30 738.90 C1446.90 738.90 1451.50 738.90 1456.10 740.30 C1459.80 741.43 1463.50 743.28 1467.20 745.80 C1471.37 748.63 1475.53 753.77 1479.70 756.90 C1484.30 760.36 1488.90 762.87 1493.50 765.20 C1499.50 768.24 1505.50 770.30 1511.50 772.10 C1518.43 774.17 1525.37 776.30 1532.30 776.30 C1539.20 776.30 1546.10 775.15 1553.00 774.20 C1559.70 773.27 1566.40 771.87 1573.10 770.70"/>
<path stroke="#DC9B00" d="M872.00 918.20 C880.67 917.23 889.33 916.04 898.00 915.30 C902.07 914.95 906.13 915.30 910.20 914.40 C911.63 914.08 913.07 913.83 914.50 913.00 C915.37 912.50 916.23 912.13 917.10 911.10 C918.27 909.72 919.43 907.75 920.60 904.80 C921.53 902.44 922.47 899.85 923.40 896.10 C924.20 892.89 925.00 891.54 925.80 884.60 C926.17 881.42 926.53 877.63 926.90 873.10 C927.30 868.16 927.70 863.45 928.10 855.80 C928.47 848.78 928.83 844.24 929.20 830.00 C929.47 819.65 929.73 801.67 930.00 790.00 C930.27 778.33 930.53 769.87 930.80 760.00 C931.17 746.43 931.53 736.16 931.90 720.00 C932.67 686.20 933.43 631.50 934.20 581.50 C934.97 531.50 935.73 479.85 936.50 420.00 C936.87 391.38 937.23 420.00 937.60 330.00 C937.67 313.64 937.73 279.13 937.80 260.70 C938.00 205.40 938.20 219.93 938.40 205.40 C938.83 173.92 939.27 165.90 939.70 165.90 C940.30 165.90 940.90 167.83 941.50 170.00 C942.03 171.93 942.57 173.20 943.10 177.70 C943.80 183.60 944.50 196.18 945.20 205.40 C945.90 214.62 946.60 222.63 947.30 233.00 C948.00 243.37 948.70 250.10 949.40 267.60 C949.77 276.76 950.13 288.18 950.50 300.00 C950.93 313.97 951.37 332.92 951.80 346.20 C952.47 366.63 953.13 377.00 953.80 392.40 C954.47 407.80 955.13 425.55 955.80 438.60 C956.93 460.79 958.07 471.20 959.20 484.80 C960.77 503.60 962.33 518.17 963.90 530.90 C965.80 546.34 967.70 555.57 969.60 565.60 C971.93 577.92 974.27 586.15 976.60 595.60 C979.00 605.32 981.40 613.87 983.80 623.00 C986.17 632.00 988.53 642.82 990.90 650.00 C993.33 657.39 995.77 661.46 998.20 666.40 C1001.60 673.30 1005.00 678.80 1008.40 684.00 C1011.83 689.25 1015.27 693.70 1018.70 697.70 C1022.10 701.66 1025.50 705.06 1028.90 707.90 C1032.60 710.99 1036.30 712.75 1040.00 715.20 C1045.90 719.10 1051.80 723.26 1057.70 727.00 C1064.10 731.06 1070.50 735.35 1076.90 738.50 C1081.27 740.65 1085.63 741.97 1090.00 744.00 C1093.33 745.55 1096.67 747.73 1100.00 749.00 C1103.33 750.27 1106.67 750.69 1110.00 751.60 C1115.40 753.08 1120.80 755.33 1126.20 756.40 C1131.57 757.46 1136.93 757.47 1142.30 758.00 C1147.70 758.53 1153.10 759.60 1158.50 759.60 C1163.87 759.60 1169.23 758.53 1174.60 758.00 C1180.00 757.47 1185.40 756.80 1190.80 756.40 C1196.17 756.00 1201.53 756.00 1206.90 755.60 C1210.23 755.35 1213.57 755.01 1216.90 754.70 C1223.07 754.13 1229.23 754.12 1235.40 752.90 C1241.53 751.68 1247.67 749.24 1253.80 747.40 C1259.97 745.55 1266.13 743.35 1272.30 741.80 C1278.43 740.26 1284.57 739.02 1290.70 738.10 C1296.87 737.18 1303.03 736.30 1309.20 736.30 C1315.37 736.30 1321.53 736.53 1327.70 738.10 C1332.60 739.35 1337.50 741.56 1342.40 743.70 C1347.33 745.86 1352.27 749.03 1357.20 751.00 C1362.13 752.97 1367.07 755.50 1372.00 755.50 C1375.33 755.50 1378.67 755.33 1382.00 754.00 C1385.93 752.43 1389.87 749.80 1393.80 745.80 C1398.43 741.09 1403.07 733.11 1407.70 726.40 C1412.30 719.74 1416.90 711.45 1421.50 705.70 C1426.13 699.90 1430.77 694.79 1435.40 691.80 C1439.53 689.13 1443.67 687.70 1447.80 687.70 C1451.50 687.70 1455.20 689.03 1458.90 691.80 C1462.60 694.57 1466.30 699.66 1470.00 704.30 C1473.67 708.90 1477.33 715.28 1481.00 719.50 C1485.17 724.29 1489.33 727.49 1493.50 730.60 C1497.20 733.36 1500.90 735.81 1504.60 737.50 C1509.20 739.60 1513.80 741.00 1518.40 741.00 C1523.03 741.00 1527.67 739.94 1532.30 738.90 C1536.90 737.87 1541.50 734.80 1546.10 734.80 C1550.73 734.80 1555.37 734.80 1560.00 734.80 C1564.37 734.80 1568.73 737.53 1573.10 738.90"/>
<path stroke="#00CDCE" d="M940.00 918.20 C947.33 917.97 954.67 918.20 962.00 917.50 C964.67 917.25 967.33 917.28 970.00 916.50 C971.33 916.11 972.67 916.33 974.00 915.00 C975.10 913.90 976.20 914.53 977.30 910.00 C978.43 905.34 979.57 897.91 980.70 886.90 C981.47 879.45 982.23 871.10 983.00 860.00 C983.60 851.31 984.20 852.86 984.80 830.00 C985.13 817.30 985.47 795.00 985.80 780.00 C986.13 765.00 986.47 753.59 986.80 740.00 C987.20 723.70 987.60 708.68 988.00 690.00 C988.53 665.09 989.07 639.50 989.60 604.50 C990.13 569.50 990.67 524.43 991.20 480.00 C991.43 460.56 991.67 444.67 991.90 420.00 C992.07 402.38 992.23 381.67 992.40 360.00 C992.57 338.33 992.73 312.87 992.90 290.00 C993.03 271.70 993.17 253.35 993.30 236.00 C993.47 214.31 993.63 181.92 993.80 174.00 C994.40 145.50 995.00 145.50 995.60 145.50 C996.17 145.50 996.73 148.12 997.30 152.00 C998.00 156.79 998.70 166.35 999.40 174.20 C1000.60 187.65 1001.80 202.01 1003.00 218.50 C1004.17 234.53 1005.33 253.00 1006.50 271.50 C1007.40 285.77 1008.30 299.67 1009.20 315.80 C1009.97 329.54 1010.73 345.60 1011.50 360.00 C1012.13 371.89 1012.77 384.07 1013.40 395.00 C1014.13 407.66 1014.87 419.64 1015.60 430.00 C1016.27 439.42 1016.93 447.55 1017.60 455.00 C1018.70 467.28 1019.80 475.94 1020.90 484.60 C1022.13 494.31 1023.37 501.86 1024.60 509.20 C1026.23 518.92 1027.87 526.02 1029.50 533.80 C1031.33 542.53 1033.17 550.27 1035.00 558.40 C1036.87 566.68 1038.73 576.03 1040.60 583.00 C1042.63 590.59 1044.67 595.90 1046.70 601.40 C1049.17 608.07 1051.63 612.92 1054.10 618.60 C1056.57 624.28 1059.03 630.10 1061.50 635.50 C1063.93 640.83 1066.37 646.10 1068.80 650.80 C1072.03 657.04 1075.27 662.56 1078.50 667.40 C1082.20 672.94 1085.90 677.29 1089.60 681.30 C1093.73 685.78 1097.87 689.10 1102.00 692.40 C1106.63 696.10 1111.27 699.02 1115.90 702.00 C1120.60 705.02 1125.30 707.63 1130.00 710.40 C1134.10 712.82 1138.20 715.53 1142.30 717.60 C1147.70 720.33 1153.10 721.94 1158.50 724.10 C1163.87 726.24 1169.23 728.09 1174.60 730.50 C1180.00 732.92 1185.40 736.16 1190.80 738.60 C1196.17 741.02 1201.53 743.20 1206.90 745.10 C1214.60 747.82 1222.30 750.15 1230.00 751.60 C1237.93 753.09 1245.87 753.80 1253.80 753.80 C1259.97 753.80 1266.13 753.80 1272.30 753.80 C1278.43 753.80 1284.57 753.20 1290.70 752.90 C1296.87 752.60 1303.03 752.47 1309.20 752.00 C1315.37 751.53 1321.53 750.72 1327.70 750.10 C1333.83 749.49 1339.97 748.91 1346.10 748.30 C1352.27 747.68 1358.43 747.12 1364.60 746.40 C1369.73 745.80 1374.87 745.11 1380.00 744.40 C1384.60 743.77 1389.20 743.08 1393.80 742.40 C1398.43 741.71 1403.07 740.77 1407.70 740.30 C1412.30 739.84 1416.90 739.60 1421.50 739.60 C1426.13 739.60 1430.77 739.71 1435.40 740.30 C1440.00 740.88 1444.60 742.19 1449.20 743.10 C1453.83 744.02 1458.47 745.80 1463.10 745.80 C1467.70 745.80 1472.30 745.80 1476.90 745.80 C1481.50 745.80 1486.10 744.47 1490.70 743.10 C1494.40 742.00 1498.10 741.81 1501.80 738.90 C1505.03 736.35 1508.27 731.27 1511.50 727.80 C1515.20 723.83 1518.90 720.25 1522.60 716.80 C1526.30 713.35 1530.00 709.69 1533.70 707.10 C1537.83 704.20 1541.97 700.80 1546.10 700.80 C1549.80 700.80 1553.50 700.80 1557.20 700.80 C1559.97 700.80 1562.73 702.83 1565.50 704.30 C1568.03 705.65 1570.57 707.50 1573.10 709.10"/>
<path stroke="#8E4B4B" d="M1005.00 918.20 C1009.33 917.97 1013.67 918.20 1018.00 917.50 C1020.00 917.18 1022.00 917.50 1024.00 916.00 C1025.33 915.00 1026.67 916.00 1028.00 908.00 C1028.93 902.40 1029.87 890.53 1030.80 875.00 C1031.53 862.80 1032.27 856.54 1033.00 830.00 C1033.53 810.70 1034.07 777.06 1034.60 753.80 C1035.23 726.18 1035.87 704.96 1036.50 680.00 C1037.17 653.73 1037.83 638.99 1038.50 600.00 C1038.97 572.71 1039.43 538.29 1039.90 500.00 C1040.20 475.38 1040.50 453.36 1040.80 420.00 C1041.03 394.05 1041.27 357.50 1041.50 330.00 C1041.73 302.50 1041.97 278.79 1042.20 255.00 C1042.50 224.41 1042.80 183.21 1043.10 169.20 C1043.87 133.40 1044.63 133.40 1045.40 133.40 C1046.53 133.40 1047.67 136.42 1048.80 146.10 C1050.33 159.20 1051.87 188.75 1053.40 215.30 C1054.97 242.43 1056.53 280.68 1058.10 307.60 C1059.23 327.08 1060.37 343.64 1061.50 360.00 C1062.40 373.00 1063.30 384.82 1064.20 396.90 C1065.13 409.43 1066.07 423.79 1067.00 433.80 C1068.23 447.03 1069.47 453.07 1070.70 461.50 C1072.23 471.98 1073.77 480.65 1075.30 489.20 C1077.13 499.42 1078.97 508.68 1080.80 516.90 C1083.27 527.96 1085.73 536.20 1088.20 544.60 C1091.30 555.15 1094.40 563.97 1097.50 572.30 C1101.17 582.16 1104.83 590.39 1108.50 598.10 C1111.17 603.71 1113.83 608.14 1116.50 613.50 C1119.73 620.00 1122.97 628.02 1126.20 634.00 C1129.97 640.96 1133.73 645.82 1137.50 651.40 C1141.27 656.98 1145.03 662.64 1148.80 667.50 C1152.03 671.67 1155.27 675.87 1158.50 678.90 C1162.80 682.93 1167.10 684.22 1171.40 686.90 C1175.70 689.58 1180.00 691.77 1184.30 695.00 C1188.60 698.23 1192.90 703.34 1197.20 706.30 C1201.53 709.28 1205.87 711.03 1210.20 712.80 C1216.13 715.22 1222.07 715.03 1228.00 717.80 C1232.93 720.10 1237.87 724.63 1242.80 727.00 C1248.93 729.95 1255.07 730.75 1261.20 732.60 C1267.37 734.46 1273.53 735.79 1279.70 738.10 C1285.83 740.40 1291.97 744.52 1298.10 746.40 C1303.03 747.91 1307.97 749.20 1312.90 749.20 C1320.27 749.20 1327.63 749.20 1335.00 749.20 C1342.40 749.20 1349.80 750.38 1357.20 751.00 C1364.57 751.62 1371.93 752.90 1379.30 752.90 C1384.13 752.90 1388.97 752.70 1393.80 752.70 C1398.43 752.70 1403.07 754.33 1407.70 754.80 C1413.70 755.41 1419.70 755.50 1425.70 755.50 C1431.23 755.50 1436.77 753.79 1442.30 752.70 C1447.37 751.70 1452.43 750.18 1457.50 749.30 C1463.97 748.18 1470.43 747.87 1476.90 747.20 C1481.50 746.72 1486.10 746.15 1490.70 745.80 C1495.33 745.45 1499.97 745.45 1504.60 745.10 C1509.20 744.75 1513.80 744.03 1518.40 743.70 C1523.03 743.36 1527.67 743.10 1532.30 743.10 C1536.90 743.10 1541.50 744.53 1546.10 745.10 C1550.73 745.67 1555.37 746.50 1560.00 746.50 C1564.37 746.50 1568.73 746.50 1573.10 746.50"/>
<path stroke="#8C8C00" d="M1060.00 918.20 C1064.00 917.97 1068.00 918.20 1072.00 917.50 C1074.27 917.10 1076.53 917.50 1078.80 915.50 C1079.87 914.56 1080.93 914.27 1082.00 909.00 C1082.87 904.72 1083.73 898.67 1084.60 890.00 C1085.40 881.99 1086.20 883.54 1087.00 860.00 C1087.50 845.29 1088.00 818.14 1088.50 800.00 C1089.13 777.02 1089.77 780.09 1090.40 740.00 C1090.80 714.68 1091.20 668.58 1091.60 640.00 C1092.33 587.60 1093.07 597.90 1093.80 530.70 C1094.13 500.16 1094.47 465.09 1094.80 420.00 C1095.00 392.95 1095.20 363.27 1095.40 330.00 C1095.57 302.27 1095.73 266.67 1095.90 240.00 C1096.07 213.33 1096.23 186.67 1096.40 170.00 C1096.70 140.00 1097.00 145.57 1097.30 140.00 C1098.20 123.30 1099.10 123.30 1100.00 123.30 C1100.60 123.30 1101.20 123.30 1101.80 128.00 C1102.17 130.87 1102.53 139.57 1102.90 145.40 C1104.00 162.87 1105.10 182.65 1106.20 198.50 C1107.37 215.31 1108.53 229.40 1109.70 242.70 C1111.20 259.80 1112.70 267.65 1114.20 286.90 C1115.37 301.87 1116.53 323.19 1117.70 340.00 C1118.47 351.05 1119.23 362.33 1120.00 372.00 C1120.83 382.51 1121.67 391.75 1122.50 400.00 C1123.60 410.89 1124.70 419.29 1125.80 427.00 C1127.07 435.88 1128.33 441.22 1129.60 448.50 C1130.83 455.59 1132.07 463.83 1133.30 470.10 C1135.10 479.25 1136.90 485.32 1138.70 491.60 C1140.50 497.88 1142.30 501.98 1144.10 507.80 C1145.17 511.25 1146.23 515.15 1147.30 518.60 C1149.10 524.42 1150.90 529.34 1152.70 534.80 C1154.60 540.56 1156.50 546.73 1158.40 552.30 C1162.27 563.63 1166.13 573.87 1170.00 583.00 C1173.70 591.74 1177.40 599.26 1181.10 606.20 C1185.40 614.27 1189.70 620.34 1194.00 627.20 C1198.83 634.91 1203.67 644.18 1208.50 649.80 C1212.30 654.22 1216.10 656.04 1219.90 659.50 C1222.87 662.20 1225.83 665.21 1228.80 668.00 C1232.83 671.79 1236.87 675.53 1240.90 679.10 C1245.20 682.91 1249.50 687.38 1253.80 690.10 C1258.73 693.22 1263.67 693.23 1268.60 695.70 C1273.53 698.17 1278.47 701.85 1283.40 704.90 C1288.93 708.32 1294.47 712.44 1300.00 715.10 C1306.77 718.35 1313.53 719.44 1320.30 721.50 C1327.67 723.75 1335.03 726.02 1342.40 728.00 C1348.57 729.66 1354.73 730.54 1360.90 732.60 C1365.80 734.24 1370.70 738.50 1375.60 738.50 C1381.67 738.50 1387.73 738.20 1393.80 738.20 C1398.43 738.20 1403.07 740.19 1407.70 741.70 C1412.30 743.20 1416.90 746.05 1421.50 747.20 C1426.13 748.36 1430.77 748.60 1435.40 748.60 C1440.00 748.60 1444.60 748.60 1449.20 748.60 C1453.83 748.60 1458.47 749.53 1463.10 750.00 C1467.70 750.46 1472.30 751.40 1476.90 751.40 C1481.50 751.40 1486.10 750.70 1490.70 750.70 C1495.33 750.70 1499.97 751.17 1504.60 751.40 C1509.20 751.63 1513.80 752.10 1518.40 752.10 C1523.03 752.10 1527.67 752.10 1532.30 752.10 C1536.90 752.10 1541.50 751.28 1546.10 750.70 C1550.73 750.12 1555.37 749.07 1560.00 748.60 C1564.37 748.16 1568.73 748.13 1573.10 747.90"/>
<path stroke="#FF6600" d="M224.00 918.20 C522.00 918.20 820.00 918.20 1118.00 918.20 C1121.27 918.20 1124.53 918.20 1127.80 917.60 C1129.70 917.25 1131.60 917.60 1133.50 914.60 C1134.43 913.13 1135.37 911.85 1136.30 908.00 C1136.80 905.94 1137.30 904.04 1137.80 900.40 C1138.33 896.52 1138.87 891.01 1139.40 885.00 C1139.80 880.49 1140.20 877.06 1140.60 870.00 C1141.53 853.53 1142.47 829.43 1143.40 787.00 C1144.07 756.70 1144.73 714.94 1145.40 673.50 C1145.97 638.27 1146.53 596.58 1147.10 560.00 C1147.37 542.79 1147.63 554.49 1147.90 509.20 C1148.03 486.56 1148.17 455.60 1148.30 420.00 C1148.40 393.30 1148.50 354.64 1148.60 330.00 C1148.73 297.14 1148.87 279.80 1149.00 260.00 C1149.23 225.35 1149.47 207.93 1149.70 188.50 C1150.00 163.52 1150.30 140.63 1150.60 135.40 C1151.67 116.80 1152.73 116.80 1153.80 116.80 C1154.37 116.80 1154.93 116.80 1155.50 121.00 C1156.23 126.44 1156.97 143.67 1157.70 153.10 C1158.87 168.11 1160.03 175.23 1161.20 188.50 C1162.37 201.77 1163.53 218.17 1164.70 232.70 C1165.90 247.65 1167.10 261.94 1168.30 276.90 C1169.47 291.45 1170.63 302.19 1171.80 321.20 C1172.50 332.61 1173.20 349.21 1173.90 360.00 C1175.13 379.00 1176.37 386.85 1177.60 397.00 C1179.13 409.61 1180.67 416.15 1182.20 424.70 C1184.03 434.92 1185.87 444.18 1187.70 452.40 C1190.17 463.46 1192.63 471.48 1195.10 480.10 C1197.57 488.72 1200.03 496.57 1202.50 504.10 C1205.57 513.46 1208.63 522.05 1211.70 530.00 C1215.40 539.59 1219.10 547.80 1222.80 555.80 C1226.50 563.80 1230.20 569.58 1233.90 578.00 C1235.93 582.63 1237.97 588.55 1240.00 592.80 C1242.83 598.72 1245.67 602.60 1248.50 606.60 C1252.13 611.73 1255.77 614.93 1259.40 619.00 C1263.07 623.10 1266.73 626.11 1270.40 631.10 C1273.50 635.32 1276.60 641.35 1279.70 645.80 C1283.37 651.06 1287.03 656.62 1290.70 659.70 C1294.40 662.81 1298.10 662.00 1301.80 664.30 C1305.50 666.60 1309.20 669.65 1312.90 673.50 C1317.20 677.97 1321.50 689.10 1325.80 690.10 C1330.10 691.10 1334.40 690.38 1338.70 691.10 C1342.40 691.72 1346.10 691.50 1349.80 693.80 C1353.50 696.10 1357.20 701.69 1360.90 704.90 C1365.20 708.63 1369.50 714.10 1373.80 714.10 C1378.10 714.10 1382.40 712.30 1386.70 712.30 C1391.40 712.30 1396.10 715.26 1400.80 718.10 C1404.47 720.32 1408.13 724.82 1411.80 726.40 C1415.03 727.79 1418.27 727.80 1421.50 727.80 C1426.13 727.80 1430.77 725.80 1435.40 725.80 C1439.07 725.80 1442.73 727.91 1446.40 729.20 C1451.03 730.82 1455.67 733.71 1460.30 734.80 C1465.83 736.10 1471.37 735.29 1476.90 736.10 C1481.50 736.77 1486.10 737.68 1490.70 738.90 C1494.40 739.88 1498.10 741.93 1501.80 742.40 C1507.33 743.10 1512.87 742.86 1518.40 743.10 C1523.03 743.30 1527.67 743.10 1532.30 743.70 C1536.90 744.30 1541.50 746.38 1546.10 747.20 C1550.73 748.02 1555.37 748.60 1560.00 748.60 C1564.37 748.60 1568.73 748.13 1573.10 747.90"/>
</g>
<rect x="224.2" y="39.8" width="1364.5" height="1098.0" fill="none" stroke="#000" stroke-width="3.8"/>
<path d="M360.6 1137.8 V1127.8 M497.1 1137.8 V1116.3 M633.5 1137.8 V1127.8 M770.0 1137.8 V1116.3 M906.5 1137.8 V1127.8 M1042.9 1137.8 V1116.3 M1179.3 1137.8 V1127.8 M1315.8 1137.8 V1116.3 M1452.2 1137.8 V1127.8 M224.2 1064.6 H245.7 M224.2 991.4 H234.2 M224.2 918.2 H245.7 M224.2 845.0 H234.2 M224.2 771.8 H245.7 M224.2 698.6 H234.2 M224.2 625.4 H245.7 M224.2 552.2 H234.2 M224.2 479.0 H245.7 M224.2 405.8 H234.2 M224.2 332.6 H245.7 M224.2 259.4 H234.2 M224.2 186.2 H245.7 M224.2 113.0 H234.2" stroke="#000" stroke-width="3.8" fill="none"/>
<text transform="translate(224.2 1203.6) scale(1 1.0)" font-size="56.2" text-anchor="middle">0</text>
<text transform="translate(497.1 1203.6) scale(1 1.0)" font-size="56.2" text-anchor="middle">10</text>
<text transform="translate(770.0 1203.6) scale(1 1.0)" font-size="56.2" text-anchor="middle">20</text>
<text transform="translate(1042.9 1203.6) scale(1 1.0)" font-size="56.2" text-anchor="middle">30</text>
<text transform="translate(1315.8 1203.6) scale(1 1.0)" font-size="56.2" text-anchor="middle">40</text>
<text transform="translate(1588.7 1203.6) scale(1 1.0)" font-size="56.2" text-anchor="middle">50</text>
<text transform="translate(202.3 1081.9) scale(1 1.035)" font-size="56.2" text-anchor="end">−0.05</text>
<text transform="translate(202.3 935.5) scale(1 1.035)" font-size="56.2" text-anchor="end">0.00</text>
<text transform="translate(202.3 789.1) scale(1 1.035)" font-size="56.2" text-anchor="end">0.05</text>
<text transform="translate(202.3 642.7) scale(1 1.035)" font-size="56.2" text-anchor="end">0.10</text>
<text transform="translate(202.3 496.3) scale(1 1.035)" font-size="56.2" text-anchor="end">0.15</text>
<text transform="translate(202.3 349.9) scale(1 1.035)" font-size="56.2" text-anchor="end">0.20</text>
<text transform="translate(202.3 203.5) scale(1 1.035)" font-size="56.2" text-anchor="end">0.25</text>
<text transform="translate(202.3 57.1) scale(1 1.035)" font-size="56.2" text-anchor="end">0.30</text>
<text x="907.8" y="1273.7" font-size="56.3" text-anchor="middle">Time (μs)</text>
<text transform="translate(59.8 589.2) rotate(-90)" x="0" y="0" font-size="56.3" text-anchor="middle">Pressure (Mbar)</text>
<line x1="342.5" y1="115.5" x2="443.5" y2="115.5" stroke="#4F4F4F" stroke-width="5" stroke-linecap="round"/>
<text transform="translate(455.5 130.5) scale(1 1.04)" font-size="44">Gauge#1</text>
<line x1="342.5" y1="171.6" x2="443.5" y2="171.6" stroke="#FF3B3B" stroke-width="5" stroke-linecap="round"/>
<text transform="translate(455.5 186.6) scale(1 1.04)" font-size="44">Gauge#2</text>
<line x1="342.5" y1="227.6" x2="443.5" y2="227.6" stroke="#006EE3" stroke-width="5" stroke-linecap="round"/>
<text transform="translate(455.5 242.6) scale(1 1.04)" font-size="44">Gauge#3</text>
<line x1="342.5" y1="283.6" x2="443.5" y2="283.6" stroke="#00AF64" stroke-width="5" stroke-linecap="round"/>
<text transform="translate(455.5 298.6) scale(1 1.04)" font-size="44">Gauge#4</text>
<line x1="342.5" y1="339.7" x2="443.5" y2="339.7" stroke="#C27AE2" stroke-width="5" stroke-linecap="round"/>
<text transform="translate(455.5 354.7) scale(1 1.04)" font-size="44">Gauge#5</text>
<line x1="342.5" y1="395.8" x2="443.5" y2="395.8" stroke="#DC9B00" stroke-width="5" stroke-linecap="round"/>
<text transform="translate(455.5 410.8) scale(1 1.04)" font-size="44">Gauge#6</text>
<line x1="342.5" y1="451.8" x2="443.5" y2="451.8" stroke="#00CDCE" stroke-width="5" stroke-linecap="round"/>
<text transform="translate(455.5 466.8) scale(1 1.04)" font-size="44">Gauge#7</text>
<line x1="342.5" y1="507.8" x2="443.5" y2="507.8" stroke="#8E4B4B" stroke-width="5" stroke-linecap="round"/>
<text transform="translate(455.5 522.8) scale(1 1.04)" font-size="44">Gauge#8</text>
<line x1="342.5" y1="563.9" x2="443.5" y2="563.9" stroke="#8C8C00" stroke-width="5" stroke-linecap="round"/>
<text transform="translate(455.5 578.9) scale(1 1.04)" font-size="44">Gauge#9</text>
<line x1="342.5" y1="620.0" x2="443.5" y2="620.0" stroke="#FF6600" stroke-width="5" stroke-linecap="round"/>
<text transform="translate(455.5 635.0) scale(1 1.04)" font-size="44">Gauge#10</text>
</svg></body></html>
